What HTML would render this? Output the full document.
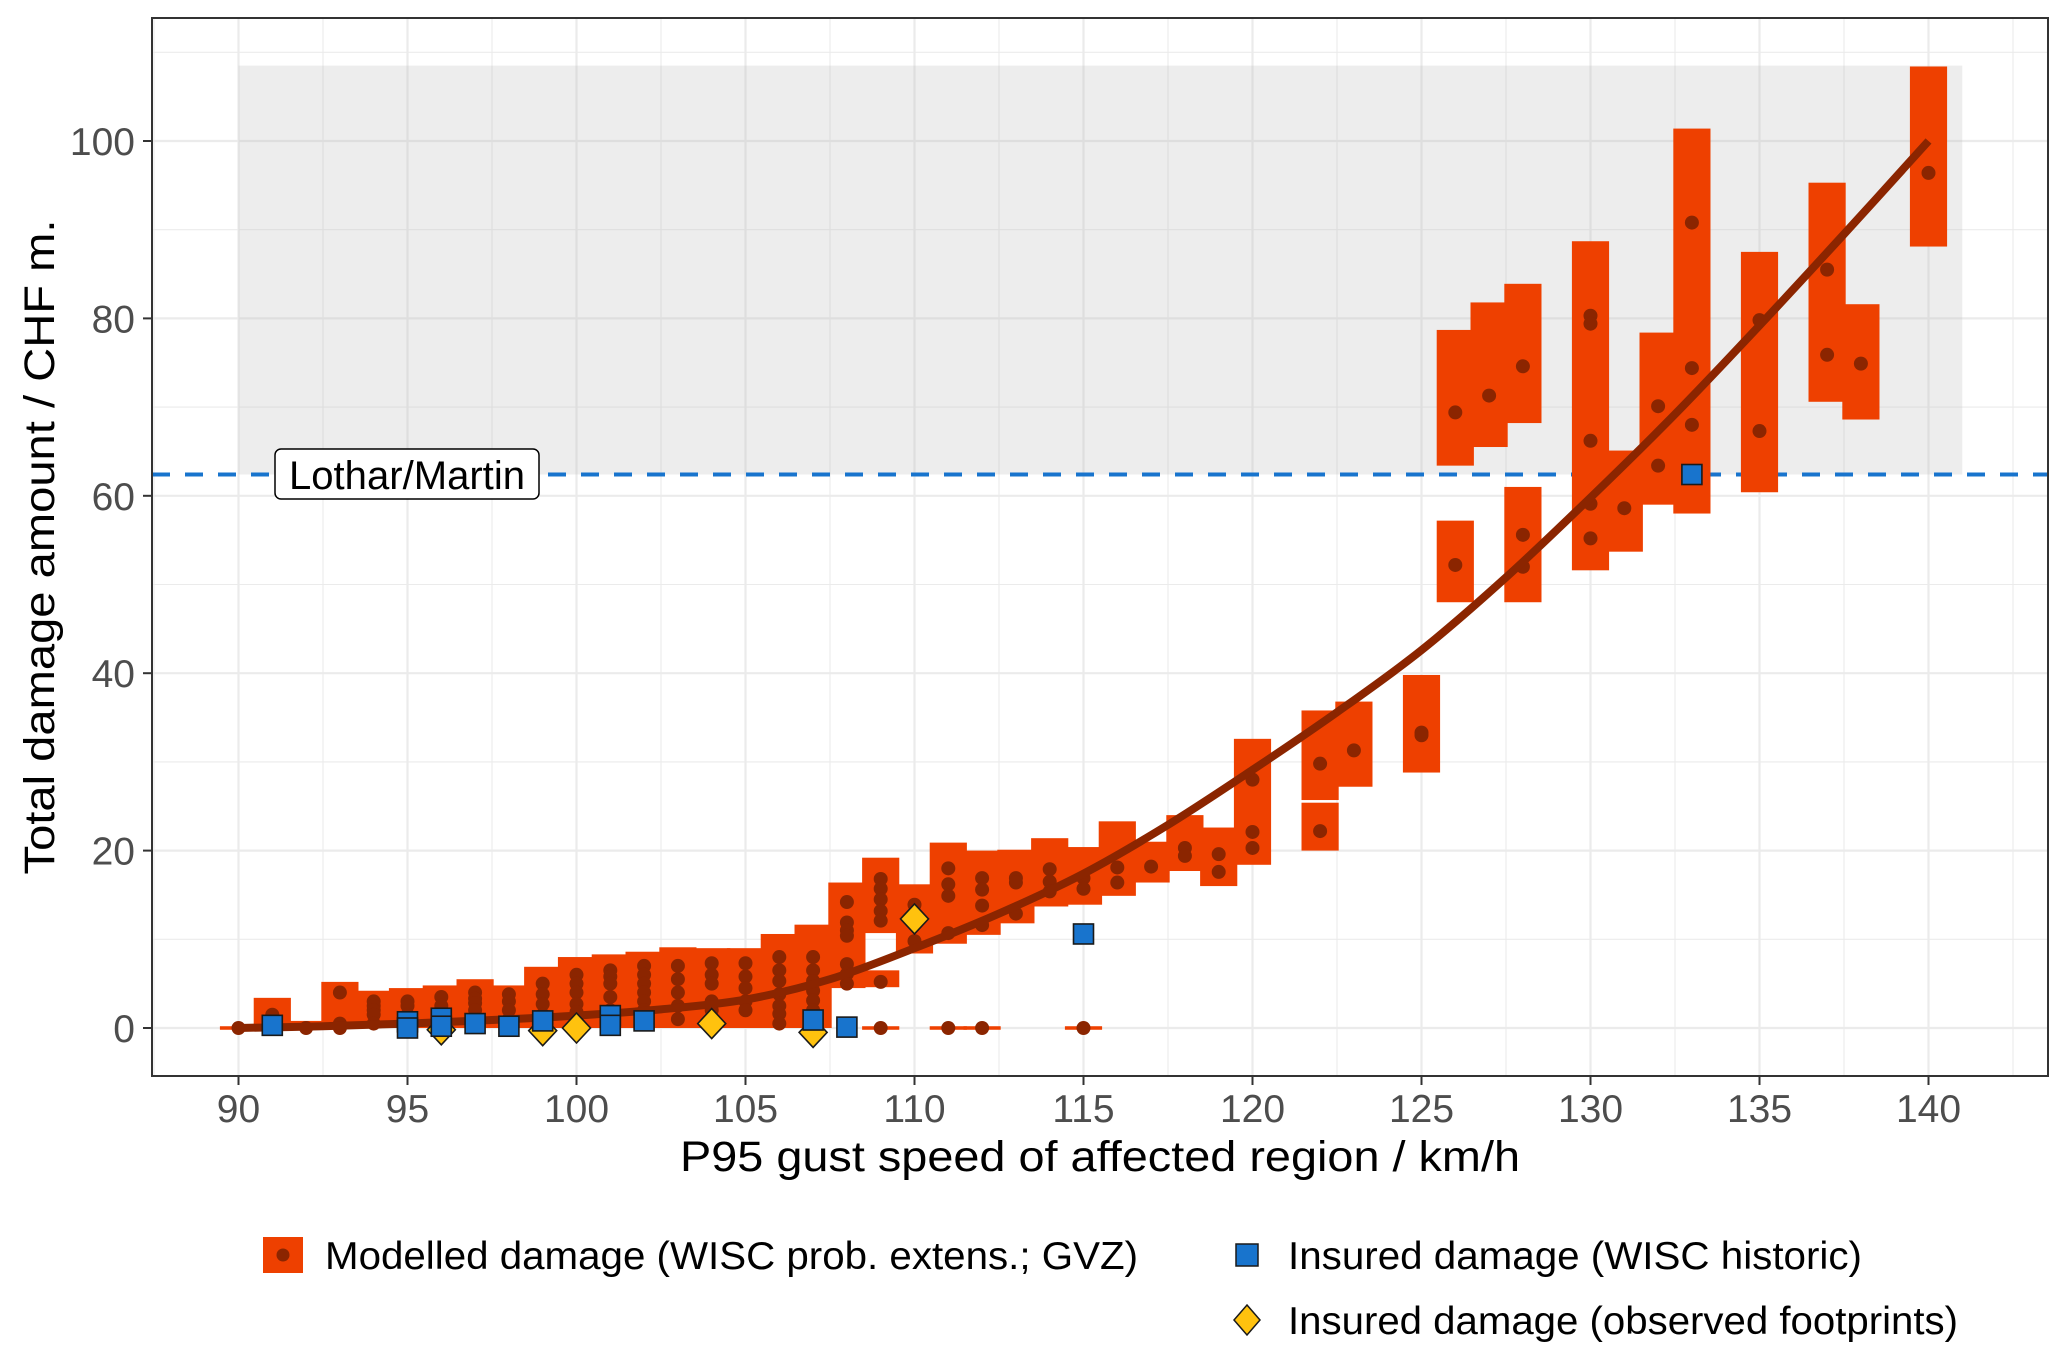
<!DOCTYPE html>
<html><head><meta charset="utf-8"><style>
html,body{margin:0;padding:0;background:#fff;}
svg{display:block;font-family:"Liberation Sans",Arial,sans-serif;}
</style></head><body>
<svg id="chart" width="2067" height="1362" viewBox="0 0 2067 1362" xmlns="http://www.w3.org/2000/svg">
<rect x="152" y="18" width="1896" height="1058" fill="#fff"/>
<g id="grid"></g>
<g id="bands"></g>
<g id="rects"></g>
<g id="dots"></g>
<g id="curve"></g>
<g id="diamonds"></g>
<g id="squares"></g>
<rect x="152" y="18" width="1896" height="1058" fill="none" stroke="#333" stroke-width="2"/>
<g id="axes"></g>
<text x="1100" y="1171" font-size="43" text-anchor="middle" textLength="840" lengthAdjust="spacingAndGlyphs" fill="#000">P95 gust speed of affected region / km/h</text>
<text transform="translate(54,547) rotate(-90)" font-size="43" text-anchor="middle" textLength="655" lengthAdjust="spacingAndGlyphs" fill="#000">Total damage amount / CHF m.</text>
<g>
  <g>
    <rect x="263" y="1237" width="40" height="36" fill="#EE4000"/>
    <circle cx="283" cy="1255" r="6.5" fill="#8B2500"/>
    <text x="325" y="1269" font-size="39" textLength="813" lengthAdjust="spacingAndGlyphs" fill="#000">Modelled damage (WISC prob. extens.; GVZ)</text>
  </g>
  <g>
    <rect x="1236" y="1244" width="22" height="22" fill="#1874CD" stroke="#1a1a1a" stroke-width="1.5"/>
    <text x="1288" y="1269" font-size="39" textLength="574" lengthAdjust="spacingAndGlyphs" fill="#000">Insured damage (WISC historic)</text>
  </g>
  <g>
    <polygon points="1247,1305 1260,1320 1247,1335 1234,1320" fill="#FFC20E" stroke="#1a1a1a" stroke-width="1.5"/>
    <text x="1288" y="1334" font-size="39" textLength="670" lengthAdjust="spacingAndGlyphs" fill="#000">Insured damage (observed footprints)</text>
  </g>
</g>
</svg>
<script>
// ---- data ----
const rectX  = [90,91,92,93,94,95,96,97,98,99,100,101,102,103,104,105,106,107,108,109,109,110,111,112,113,114,115,116,117,118,119,120,122,122,123,125,126,126,127,128,128,130,131,132,133,135,137,138,140,109,111,112,115];
const rectLo = [-0.2,0,-0.2,0,0,0,0,0,0,0,0,0,0,0,0,0,0,0,4.5,10.7,4.6,8.4,9.5,10.5,11.8,13.7,13.9,14.9,16.4,17.7,16.0,18.4,25.7,20.0,27.2,28.8,63.4,48.0,65.5,68.2,48.0,51.6,53.7,59.0,58.0,60.4,70.6,68.6,88.1,-0.2,-0.2,-0.2,-0.2];
const rectHi = [0.2,3.4,0.8,5.2,4.2,4.5,4.8,5.5,4.8,6.9,8.0,8.3,8.6,9.1,9.0,9.0,10.6,11.65,16.4,19.2,6.5,16.2,20.9,20.0,20.1,21.4,20.4,23.3,21.0,24.0,22.6,32.6,35.8,25.4,36.8,39.8,78.7,57.2,81.8,83.9,61.0,88.7,65.1,78.4,101.4,87.5,95.3,81.6,108.4,0.2,0.2,0.2,0.2];

const dotX = [90,91,91,92,93,93,93,94,94,94,94,94,95,95,95,95,96,96,96,96,97,97,97,97,97,98,98,98,98,99,99,99,99,99,
  100,100,100,100,100,100,101,101,101,101,101,101,102,102,102,102,102,102,102,103,103,103,103,103,104,104,104,104,104,
  105,105,105,105,105,106,106,106,106,106,106,106,107,107,107,107,107,107,107,108,108,108,108,108,108,108,
  109,109,109,109,109,109,109,110,110,111,111,111,111,111,112,112,112,112,112,113,113,113,114,114,114,115,115,115,116,116,117,118,118,119,119,120,120,120,
  122,122,123,125,125,126,126,127,128,128,128,130,130,130,130,130,131,132,132,133,133,133,135,135,137,137,138,140];
const dotY = [0,1.5,0,0,4,0.5,0,3,2.5,2,1.5,0.5,3,2.5,1.5,0.5,3.5,2.5,1.5,0.5,4,3.3,2.8,2,1,3.8,3,2,1,5,3.8,2.7,1.5,0.5,
  6,5,4,2.7,1.8,0.5,6.5,5.8,5,3.5,2,1,7,6,5,4,3,2,1,7,5.5,4,2.5,1,7.3,6,5,3,2,
  7.3,5.8,4.5,3,2,8,6.5,5.3,3.8,2.5,1.6,0.5,8,6.5,5.3,4.2,3.1,2,0.5,14.2,11.9,11,10.4,7.2,6.1,5,
  16.8,15.7,14.5,13.2,12.1,5.2,0,13.9,9.8,18,16.2,14.9,10.7,0,16.9,15.6,13.8,11.6,0,16.9,16.4,12.9,17.9,16.5,15.4,16.9,15.7,0,18.1,16.4,18.2,20.3,19.4,19.6,17.6,28.0,22.1,20.3,
  29.8,22.2,31.3,33.3,33.0,69.4,52.2,71.3,74.6,55.6,52.0,80.3,79.4,66.2,59.1,55.2,58.6,70.1,63.4,90.8,74.4,68.0,79.8,67.3,85.5,75.9,74.9,96.4];

const curveX = [90,92.5,95,97.5,100,102.5,105,107.5,110,112.5,115,117.5,120,122.5,125,127.5,130,132.5,135,137.5,140];
const curveY = [0,0.2,0.5,0.9,1.4,2.1,3.2,5.5,9.0,12.9,17.4,22.9,29.1,35.6,42.6,50.8,59.8,69.2,79.2,89.5,100];

const squareX = [91,95,95,96,96,97,98,99,101,101,102,107,108,115,133];
const squareY = [0.3,0.7,0.0,1.1,0.2,0.5,0.2,0.8,1.4,0.3,0.8,0.9,0.1,10.6,62.4];

const diamondX = [96,99,100,104,107,110];
const diamondY = [-0.2,-0.3,0.0,0.5,-0.5,12.3];

const xTicks = [90,95,100,105,110,115,120,125,130,135,140];
const yTicks = [0,20,40,60,80,100];
const refLevel = 62.4;
const refLabel = "Lothar/Martin";
const bandXmin = 90, bandXmax = 141, bandYmax = 108.5;

// ---- scales ----
const X0=152, X1=2048, Y0=18, Y1=1076;
const xs = v => 238.5 + (v-90)*33.8;
const ys = v => 1028 - v*8.87;
const NS="http://www.w3.org/2000/svg";
function mk(tag, parent, attrs){const e=document.createElementNS(NS,tag);for(const k in attrs)e.setAttribute(k,attrs[k]);parent.appendChild(e);return e;}

// grid
const grid=document.getElementById('grid');
for(let v=87.5; v<=143; v+=2.5){
  const major = (v%5===0);
  const l=mk('line',grid,{x1:xs(v),x2:xs(v),y1:Y0,y2:Y1,stroke:'#EBEBEB','stroke-width':major?2.2:1.1});
  
  
}
for(let v=0; v<=110; v+=10){
  const major = (v%20===0);
  const l=mk('line',grid,{x1:X0,x2:X1,y1:ys(v),y2:ys(v),stroke:'#EBEBEB','stroke-width':major?2.2:1.1});
  
  
}

// band + reference line
const bands=document.getElementById('bands');
const br=mk('rect',bands,{x:xs(bandXmin),y:ys(bandYmax),width:xs(bandXmax)-xs(bandXmin),height:ys(refLevel)-ys(bandYmax),fill:'#BEBEBE','fill-opacity':0.28});


const rl=mk('line',bands,{x1:X0,x2:X1,y1:ys(refLevel),y2:ys(refLevel),stroke:'#1874CD','stroke-width':4,'stroke-dasharray':'18 15'});



// rects
const rg=document.getElementById('rects');
rectX.forEach((x,i)=>{
  const r=mk('rect',rg,{x:xs(x-0.55),y:ys(rectHi[i]),width:33.8*1.1,height:Math.max(2,ys(rectLo[i])-ys(rectHi[i])),fill:'#EE4000'});
  
  
});
// dots
const dg=document.getElementById('dots');
dotX.forEach((x,i)=>{
  const c=mk('circle',dg,{cx:xs(x),cy:ys(dotY[i]),r:7,fill:'#8B2500'});
  
  
});
// curve (Catmull-Rom through read points)
const pts=curveX.map((x,i)=>[xs(x),ys(curveY[i])]);
let d='M'+pts[0][0]+','+pts[0][1];
for(let i=0;i<pts.length-1;i++){
  const p0=pts[Math.max(0,i-1)],p1=pts[i],p2=pts[i+1],p3=pts[Math.min(pts.length-1,i+2)];
  d+=' C'+(p1[0]+(p2[0]-p0[0])/6)+','+(p1[1]+(p2[1]-p0[1])/6)+' '+(p2[0]-(p3[0]-p1[0])/6)+','+(p2[1]-(p3[1]-p1[1])/6)+' '+p2[0]+','+p2[1];
}
const cp=mk('path',document.getElementById('curve'),{d:d,fill:'none',stroke:'#8B2500','stroke-width':8});


// diamonds
const dmg=document.getElementById('diamonds');
diamondX.forEach((x,i)=>{
  const cx=xs(x),cy=ys(diamondY[i]);
  const p=mk('polygon',dmg,{points:`${cx},${cy-15} ${cx+14},${cy} ${cx},${cy+15} ${cx-14},${cy}`,fill:'#FFC20E',stroke:'#1a1a1a','stroke-width':1.6});
  
  
});
// squares
const sg=document.getElementById('squares');
squareX.forEach((x,i)=>{
  const s=mk('rect',sg,{x:xs(x)-10,y:ys(squareY[i])-10,width:20,height:20,fill:'#1874CD',stroke:'#1a1a1a','stroke-width':1.6});
  
  
});
// label box
const lb=mk('g',bands.parentNode,{});


mk('rect',lb,{x:275,y:449,width:264,height:50,rx:6,fill:'#fff',stroke:'#000','stroke-width':1.5});
const lt=mk('text',lb,{x:407,y:489,'font-size':40,'text-anchor':'middle',fill:'#000',textLength:236,lengthAdjust:'spacingAndGlyphs'});
lt.textContent=refLabel;
// axes
const ax=document.getElementById('axes');
xTicks.forEach(v=>{
  const t=mk('line',ax,{x1:xs(v),x2:xs(v),y1:Y1,y2:Y1+9,stroke:'#333','stroke-width':2});
  
  
  const l=mk('text',ax,{x:xs(v),y:1122,'font-size':39,'text-anchor':'middle',fill:'#4D4D4D'});
  
  
  l.textContent=v;
});
yTicks.forEach(v=>{
  const t=mk('line',ax,{x1:X0-9,x2:X0,y1:ys(v),y2:ys(v),stroke:'#333','stroke-width':2});
  
  
  const l=mk('text',ax,{x:135,y:ys(v)+14,'font-size':39,'text-anchor':'end',fill:'#4D4D4D'});
  
  
  l.textContent=v;
});
</script>
</body></html>
